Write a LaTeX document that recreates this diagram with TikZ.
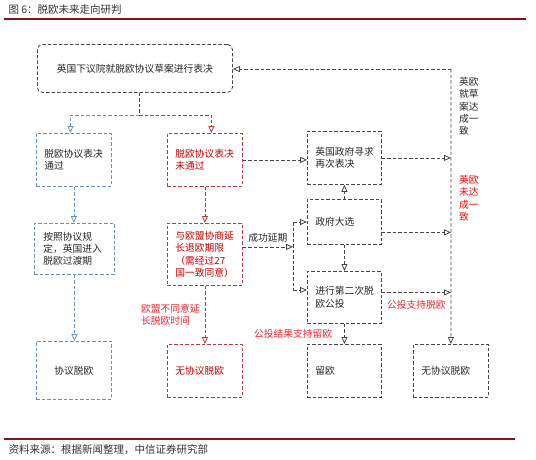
\documentclass[tikz,border=0pt]{standalone}
\usepackage{fontspec}
\newfontfamily\cjk{Noto Sans CJK SC}
\usetikzlibrary{arrows.meta}
\definecolor{boxgray}{RGB}{70,70,70}
\definecolor{boxblue}{RGB}{105,145,175}
\definecolor{boxred}{RGB}{185,60,60}
\definecolor{txtred}{RGB}{192,0,0}
\definecolor{lblred}{RGB}{232,40,50}
\definecolor{rulered}{RGB}{135,20,20}
\tikzset{
  every node/.style={font=\cjk\fontsize{9.75}{12.3}\selectfont, text=black!85},
  box/.style={draw=boxgray, line width=0.8pt, dash pattern=on 3.5pt off 2pt, anchor=north west, inner sep=0pt, align=left},
  bluebox/.style={box, draw=boxblue},
  redbox/.style={box, draw=boxred, text=txtred},
  line/.style={draw=boxgray, line width=0.8pt, dash pattern=on 3.5pt off 2pt},
  link/.style={line, -{Triangle[open,length=7pt,width=6pt]}},
  bluelink/.style={link, draw=boxblue},
  redlink/.style={link, draw=boxred},
  lbl/.style={inner sep=1pt, align=left, text=lblred}
}
\begin{document}
\begin{tikzpicture}[x=1pt,y=-1pt]
\useasboundingbox (0,0) rectangle (536,459);
\node[anchor=west, font=\cjk\fontsize{10.5}{12}\selectfont, text=black!80] (title) at (5,10) {图 6：脱欧未来走向研判};
\draw[rulered, line width=1.2pt] (4,19) -- (526,19);
\node[box, rounded corners=5pt, minimum width=195, minimum height=48, align=center] (vote) at (37,44) {英国下议院就脱欧协议草案进行表决};
\node[bluebox, minimum width=75, minimum height=53, text width=59pt] (pass) at (36,133) {脱欧协议表决\\通过};
\node[redbox, minimum width=75, minimum height=53, text width=59pt] (fail) at (167,133) {脱欧协议表决\\未通过};
\node[bluebox, minimum width=80, minimum height=51, text width=62pt] (trans) at (34,223) {按照协议规\\定，英国进入\\脱欧过渡期};
\node[redbox, minimum width=75, minimum height=62, text width=59pt] (extend) at (167,223) {与欧盟协商延\\长退欧期限\\（需经过27\\国一致同意）};
\node[bluebox, minimum width=75, minimum height=58, align=center] (deal) at (36,341) {协议脱欧};
\node[redbox, minimum width=75, minimum height=53, text width=59pt] (nodeal) at (167,344) {无协议脱欧};
\node[box, minimum width=74, minimum height=53, text width=58pt] (revote) at (307,131) {英国政府寻求\\再次表决};
\node[box, minimum width=74, minimum height=45, text width=58pt] (elect) at (307,199) {政府大选};
\node[box, minimum width=74, minimum height=52, text width=58pt] (ref) at (307,271) {进行第二次脱\\欧公投};
\node[box, minimum width=74, minimum height=53, text width=58pt] (remain) at (307,344) {留欧};
\node[box, minimum width=75, minimum height=53, text width=59pt] (nodeal2) at (413,344) {无协议脱欧};
\node[anchor=north west, inner sep=0pt, align=left] (agree) at (459,77) {英欧\\就草\\案达\\成一\\致};
\node[anchor=north west, inner sep=0pt, align=left, text=red] (disagree) at (459,175) {英欧\\未达\\成一\\致};
\coordinate (split) at (139,115);
\coordinate (vtop) at (451,69);
\coordinate (hub) at (293,222);
\coordinate (hubb) at (293,290);
\draw[line] (split |- vote.south) -- (split);
\draw[bluelink] (split) -| ([xshift=-3.5]pass.north);
\draw[redlink] (split) -| ([xshift=6.5]fail.north);
\draw[bluelink] (pass.south) -- (pass.south |- trans.north);
\draw[bluelink] (trans.south) -- (trans.south |- deal.north);
\draw[redlink] (fail.south) -- (fail.south |- extend.north);
\draw[redlink] (extend.south) -- (extend.south |- nodeal.north) node[midway, left=4pt, lbl] {欧盟不同意延\\长脱欧时间};
\draw[link] (fail.east) -- (fail.east -| revote.west);
\draw[link] ([yshift=7.5]extend.east) -- ([yshift=7.5]extend.east -| hub) node[midway, above=3pt, inner sep=1pt] {成功延期};
\draw[line] (hub) -- (hubb);
\draw[link] (hub) -- (hub -| elect.west);
\draw[link] (hubb) -- (hubb -| ref.west);
\draw[link] (elect.north) -- (revote.south);
\draw[link] (elect.south) -- (ref.north);
\draw[link] (ref.south) -- (remain.north) node[midway, left=11pt, lbl] {公投结果支持留欧};
\draw[link] (revote.east) -- (revote.east -| vtop);
\draw[link] ([yshift=-10.5]elect.east) -- ([yshift=-10.5]elect.east -| vtop);
\draw[link] ([yshift=5]ref.east) -- ([yshift=5]ref.east -| vtop) node[midway, below=6pt, lbl] {公投支持脱欧};
\draw[link] (vtop) -- (vtop -| vote.east);
\draw[link] (vtop) -- (nodeal2.north);
\draw[rulered, line width=1.2pt] (4,439) -- (515,439);
\node[anchor=west, font=\cjk\fontsize{10.5}{12}\selectfont, text=black!80] (src) at (5,450) {资料来源：根据新闻整理，中信证券研究部};
\end{tikzpicture}
\end{document}
